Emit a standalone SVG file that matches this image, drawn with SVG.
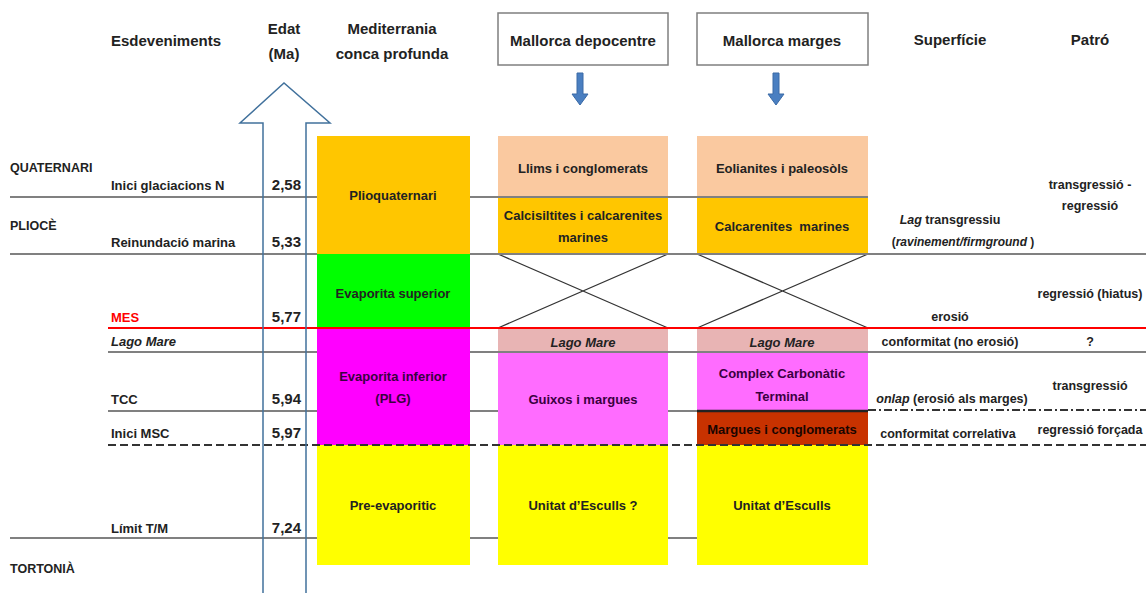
<svg xmlns="http://www.w3.org/2000/svg" width="1146" height="593" viewBox="0 0 1146 593">
<style>
text{font-family:"Liberation Sans",Arial,sans-serif;font-weight:bold;fill:#222}
.h{font-size:15px}
.l{font-size:13px}
.b{font-size:13px;text-anchor:middle}
.r{font-size:12.5px;text-anchor:middle}
.n{font-size:15px;text-anchor:end}
.c{font-size:12.5px}
.i{font-style:italic}
.gl{stroke:#808080;stroke-width:2;fill:none}
.x{stroke:#333;stroke-width:1.2;fill:none}
</style>
<rect width="1146" height="593" fill="#fff"/>
<g id="headers">
<text class="h" x="166" y="46" text-anchor="middle">Esdeveniments</text>
<text class="h" x="284" y="34" text-anchor="middle">Edat</text>
<text class="h" x="284" y="59" text-anchor="middle">(Ma)</text>
<text class="h" x="392" y="34" text-anchor="middle">Mediterrania</text>
<text class="h" x="392" y="59" text-anchor="middle">conca profunda</text>
<text class="h" x="950" y="45" text-anchor="middle">Superfície</text>
<text class="h" x="1090" y="45" text-anchor="middle">Patró</text>
</g>
<g id="box-depocentre">
<rect x="498" y="13" width="170" height="52" fill="#fff" stroke="#7f7f7f" stroke-width="1.5"/>
<text class="h" x="583" y="46" text-anchor="middle">Mallorca depocentre</text>
</g>
<g id="box-marges">
<rect x="697" y="13" width="171" height="52" fill="#fff" stroke="#7f7f7f" stroke-width="1.5"/>
<text class="h" x="782" y="46" text-anchor="middle">Mallorca marges</text>
</g>
<g id="down-arrows" fill="#4a7fc1" stroke="#3a6aa6" stroke-width="1">
<path d="M577,73 h6 v21 h5 l-8,11 l-8,-11 h5 z"/>
<path d="M773,73 h6 v21 h5 l-8,11 l-8,-11 h5 z"/>
</g>
<g id="connectors">
<line class="gl" x1="10" y1="197" x2="317" y2="197"/>
<line class="gl" x1="10" y1="254" x2="317" y2="254"/>
<line class="gl" x1="108" y1="352" x2="317" y2="352"/>
<line class="gl" x1="108" y1="411" x2="317" y2="411"/>
<line class="gl" x1="470" y1="411" x2="697" y2="411"/>
<line class="gl" x1="10" y1="538" x2="317" y2="538"/>
<line class="gl" x1="470" y1="538" x2="697" y2="538"/>
</g>
<g id="col-mediterrania">
<rect x="317" y="136" width="153" height="118" fill="#FFC600"/>
<rect x="317" y="254" width="153" height="74" fill="#00FF00"/>
<rect x="317" y="328" width="153" height="117" fill="#FF00FF"/>
<rect x="317" y="445" width="153" height="120" fill="#FFFF00"/>
<text class="b" x="393" y="200">Plioquaternari</text>
<text class="b" x="393" y="298">Evaporita superior</text>
<text class="b" x="393" y="381" style="fill:#3a0040">Evaporita inferior</text>
<text class="b" x="393" y="403" style="fill:#3a0040">(PLG)</text>
<text class="b" x="393" y="510">Pre-evaporitic</text>
</g>
<g id="col-depocentre">
<rect x="498" y="136" width="170" height="61" fill="#FAC9A0"/>
<rect x="498" y="197" width="170" height="57" fill="#FFC600"/>
<rect x="498" y="328" width="170" height="24" fill="#E8B4B4"/>
<rect x="498" y="352" width="170" height="93" fill="#FF6CFF"/>
<rect x="498" y="445" width="170" height="120" fill="#FFFF00"/>
<path class="x" d="M498,254 L668,328 M668,254 L498,328"/>
<text class="b" x="583" y="173">Llims i conglomerats</text>
<text class="b" x="583" y="220">Calcisiltites i calcarenites</text>
<text class="b" x="583" y="242">marines</text>
<text class="b i" x="583" y="347">Lago Mare</text>
<text class="b" x="583" y="404" style="fill:#3a0040">Guixos i margues</text>
<text class="b" x="583" y="510">Unitat d’Esculls ?</text>
</g>
<g id="col-marges">
<rect x="697" y="136" width="171" height="61" fill="#FAC9A0"/>
<rect x="697" y="197" width="171" height="57" fill="#FFC600"/>
<rect x="697" y="328" width="171" height="24" fill="#E8B4B4"/>
<rect x="697" y="352" width="171" height="59" fill="#FF6CFF"/>
<rect x="697" y="411" width="171" height="34" fill="#C83200"/>
<rect x="697" y="445" width="171" height="120" fill="#FFFF00"/>
<path class="x" d="M697,254 L868,328 M868,254 L697,328"/>
<line x1="697" y1="411" x2="868" y2="411" stroke="#222" stroke-width="2.5"/>
<text class="b" x="782" y="173">Eolianites i paleosòls</text>
<text class="b" x="782" y="231" xml:space="preserve">Calcarenites  marines</text>
<text class="b i" x="782" y="347">Lago Mare</text>
<text class="b" x="782" y="378" style="fill:#3a0040">Complex Carbonàtic</text>
<text class="b" x="782" y="401" style="fill:#3a0040">Terminal</text>
<text class="b" x="782" y="434" style="fill:#1a0500">Margues i conglomerats</text>
<text class="b" x="782" y="510">Unitat d’Esculls</text>
</g>
<g id="surface-lines">
<line class="gl" x1="470" y1="197" x2="868" y2="197"/>
<line class="gl" x1="470" y1="254" x2="1146" y2="254"/>
<line class="gl" x1="470" y1="352" x2="1146" y2="352"/>
<line x1="108" y1="328" x2="1146" y2="328" stroke="#FF0000" stroke-width="2"/>
<line x1="868" y1="410" x2="1146" y2="410" stroke="#333" stroke-width="2" stroke-dasharray="8 3 2 3"/>
<line x1="108" y1="445" x2="1146" y2="445" stroke="#333" stroke-width="2" stroke-dasharray="8 4"/>
</g>
<g id="time-arrow">
<path d="M263,593 V123 H240 L284,83 L330,123 H306 V593" fill="none" stroke="#41719C" stroke-width="1.5"/>
</g>
<g id="events">
<text class="c" x="10" y="172">QUATERNARI</text>
<text class="c" x="10" y="230">PLIOCÈ</text>
<text class="c" x="10" y="573">TORTONIÀ</text>
<text class="l" x="111" y="190">Inici glaciacions N</text>
<text class="l" x="111" y="247">Reinundació marina</text>
<text class="l" x="111" y="322" style="fill:#FF0000">MES</text>
<text class="l i" x="111" y="346">Lago Mare</text>
<text class="l" x="111" y="404">TCC</text>
<text class="l" x="111" y="438">Inici MSC</text>
<text class="l" x="111" y="533">Límit T/M</text>
<text class="n" x="301" y="190">2,58</text>
<text class="n" x="301" y="247">5,33</text>
<text class="n" x="301" y="322">5,77</text>
<text class="n" x="301" y="404">5,94</text>
<text class="n" x="301" y="438">5,97</text>
<text class="n" x="301" y="533">7,24</text>
</g>
<g id="surfaces">
<text class="r" x="950" y="224"><tspan class="i">Lag</tspan> transgressiu</text>
<text class="r" x="963" y="246" style="font-size:12px">(<tspan class="i">ravinement/firmground</tspan> )</text>
<text class="r" x="950" y="321">erosió</text>
<text class="r" x="950" y="346">conformitat (no erosió)</text>
<text class="r" x="952" y="403"><tspan class="i">onlap</tspan> (erosió als marges)</text>
<text class="r" x="948" y="438">conformitat correlativa</text>
</g>
<g id="patterns">
<text class="r" x="1090" y="189">transgressió -</text>
<text class="r" x="1090" y="210">regressió</text>
<text class="r" x="1090" y="298">regressió (hiatus)</text>
<text class="r" x="1090" y="346">?</text>
<text class="r" x="1090" y="390">transgressió</text>
<text class="r" x="1090" y="434">regressió forçada</text>
</g>
</svg>
